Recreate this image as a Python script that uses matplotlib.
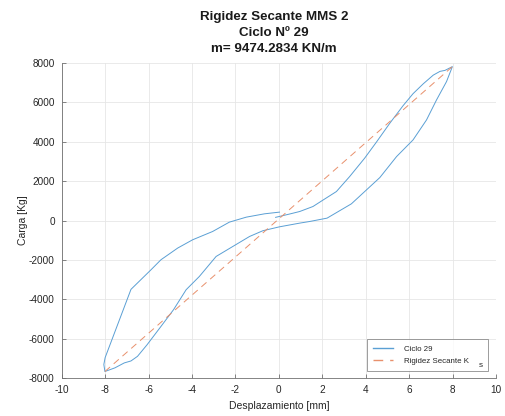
import matplotlib
matplotlib.use("Agg")
import matplotlib.pyplot as plt
import numpy as np

plt.rcParams['font.family'] = ['Liberation Sans', 'DejaVu Sans']
plt.rcParams['axes.unicode_minus'] = False

# Hysteresis cycle 29: displacement [mm] and load [Kg], in recording order
desplazamiento = [
    -0.15, 0.50, 0.96, 1.57, 2.00, 2.65, 3.26, 3.95, 4.49, 5.11, 5.72, 6.18,
    6.65, 7.11, 7.42, 7.65, 7.99,
    7.72, 7.26, 6.80, 6.49, 6.18, 5.42, 4.65, 3.34, 2.22, 1.42, 0.96, 0.03,
    -0.74, -1.35, -2.12, -2.89, -3.66, -4.27, -4.85, -5.45, -6.07, -6.51,
    -6.81, -7.12, -7.55, -8.01,
    -8.06, -8.00, -6.81, -5.89, -5.43, -4.66, -3.97, -3.05, -2.28, -1.50,
    -0.66, 0.03,
]
carga = [
    160, 330, 456, 709, 1013, 1468, 2228, 3159, 3970, 4932, 5820, 6430,
    6930, 7370, 7560, 7610, 7800,
    7040, 6111, 5099, 4592, 4086, 3240, 2177, 845, 120, -50, -133, -320,
    -520, -810, -1316, -1823, -2835, -3509, -4521, -5400, -6300, -6886,
    -7120, -7220, -7470, -7655,
    -7300, -6950, -3490, -2500, -1990, -1398, -977, -557, -83, 170,
    339, 425,
]

titulo = ["Rigidez Secante MMS 2", "Ciclo Nº 29", "m= 9474.2834 KN/m"]
x_ticks = [-10, -8, -6, -4, -2, 0, 2, 4, 6, 8, 10]
y_ticks = [-8000, -6000, -4000, -2000, 0, 2000, 4000, 6000, 8000]

d = np.array(desplazamiento)
c = np.array(carga)
i_max = int(np.argmax(c))
i_min = int(np.argmin(c))
sec_x = [d[i_min], d[i_max]]
sec_y = [c[i_min], c[i_max]]

fig = plt.figure(figsize=(5.05, 4.16), dpi=100)
ax = fig.add_axes([0.1222, 0.0906, 0.860, 0.7587])

blue = '#5a9fd4'
orange = '#e8906c'

ax.plot(d, c, color=blue, lw=0.7, label="Ciclo 29")
ax.plot(sec_x, sec_y, color=orange, lw=0.7, dashes=(7, 5),
        label="Rigidez Secante K")

ax.set_xlim(-10, 10)
ax.set_ylim(-8000, 8000)
ax.set_xticks(x_ticks)
ax.set_yticks(y_ticks)
ax.grid(True, color='#e6e6e6', lw=0.6)
ax.set_axisbelow(True)

for side in ['top', 'right']:
    ax.spines[side].set_visible(False)
for side in ['left', 'bottom']:
    ax.spines[side].set_color('#707070')
    ax.spines[side].set_linewidth(0.6)

ax.tick_params(direction='in', length=3, width=0.6, colors='#707070',
               labelcolor='#262626', labelsize=7.2, pad=5)

ax.set_xlabel("Desplazamiento [mm]", fontsize=7.5, color='#262626', labelpad=4)
ax.set_ylabel("Carga [Kg]", fontsize=7.5, color='#262626', labelpad=1)

for txt, yy in zip(titulo, [0.958, 0.921, 0.883]):
    fig.text(0.543, yy, txt, ha='center', va='center',
             fontsize=9.6, fontweight='bold', color='#1a1a1a')

leg = ax.legend(loc='lower left', mode='expand', fontsize=5.7, frameon=True,
                fancybox=False, borderpad=0.75, handlelength=2.5,
                handletextpad=1.4, labelspacing=0.6, borderaxespad=0,
                bbox_to_anchor=(0.703, 0.023, 0.2786, 0.1))
leg.get_frame().set_edgecolor('#707070')
leg.get_frame().set_linewidth(0.6)
for t in leg.get_texts():
    t.set_color('#262626')
for h in leg.get_lines():
    h.set_linewidth(1.0)

# subscript of K_s, set apart at the right edge and below the legend entry
fig.canvas.draw()
renderer = fig.canvas.get_renderer()
entry = leg.get_texts()[1].get_window_extent(renderer)
frame = leg.get_frame().get_window_extent(renderer)
inv = fig.transFigure.inverted()
sx, sy = inv.transform((frame.x1 - 7, entry.y0))
fig.text(sx, sy, "s", fontsize=5.9, color='#262626', ha='center', va='center')

fig.savefig("out.png", dpi=100)
